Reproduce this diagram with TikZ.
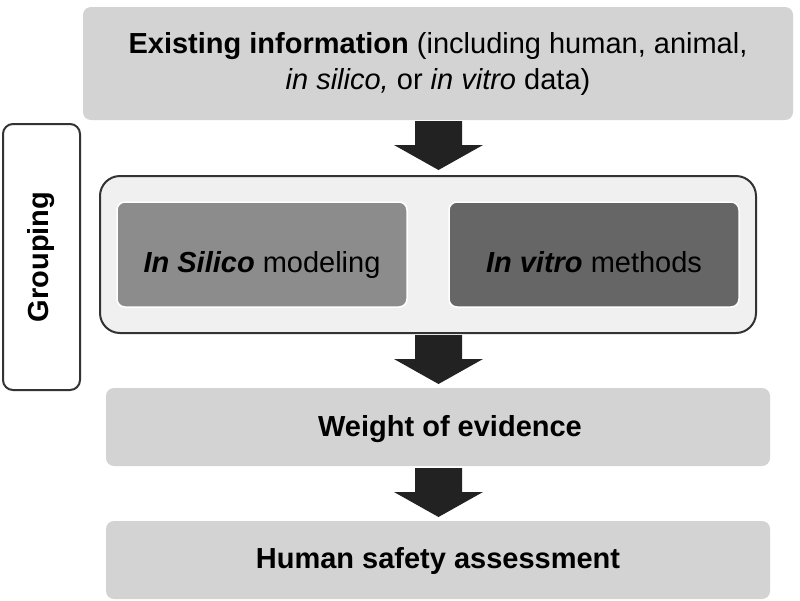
\documentclass[tikz,border=0pt]{standalone}
\usepackage{fontspec}
\setmainfont{Liberation Sans}
\begin{document}
\begin{tikzpicture}[x=1pt,y=-1pt,
  box/.style={fill=boxgray,rounded corners=8pt,inner sep=0pt},
  lbl/.style={font=\fontsize{29}{36}\selectfont,align=center,text=black},
  one/.style={lbl,text height=21pt,text depth=6pt}]
\definecolor{boxgray}{HTML}{D3D3D3}
\definecolor{arrowc}{HTML}{222222}
\definecolor{panel}{HTML}{F0F0F0}
\definecolor{silico}{HTML}{8C8C8C}
\definecolor{vitro}{HTML}{666666}
\definecolor{edge}{HTML}{333333}
\useasboundingbox (0,0) rectangle (800,600);
\fill[white] (0,0) rectangle (800,600);
% top
\filldraw[box,draw=none] (83,7) rectangle (793,120);
\node[lbl] (top) at (438,64) {\textbf{Existing information} (including human, animal,\\\textit{in silico,} or \textit{in vitro} data)};
% grouping
\draw[edge,line width=2pt,fill=white,rounded corners=10pt] (3,124) rectangle (80,390);
\node[one,rotate=90,font=\fontsize{29}{36}\selectfont\bfseries] (grp) at (41,257) {Grouping};
% panel
\draw[edge,line width=2pt,fill=panel,rounded corners=20pt] (100,176) rectangle (756,333);
\draw[white,line width=1.5pt,fill=silico,rounded corners=8pt] (117,202) rectangle (407,307);
\draw[white,line width=1.5pt,fill=vitro,rounded corners=8pt] (449,202) rectangle (739,307);
\node[one] (sil) at (262,265) {\textbf{\textit{In Silico}} modeling};
\node[one] (vit) at (594,265) {\textbf{\textit{In vitro}} methods};
% weight, human
\filldraw[box,draw=none] (106,388) rectangle (770,466);
\node[one] (woe) at (450,429) {\textbf{Weight of evidence}};
\filldraw[box,draw=none] (106,521) rectangle (770,599);
\node[one] (hsa) at (438,561) {\textbf{Human safety assessment}};
% arrows
\foreach \a/\b in {121/170,335/384,468/517}{
  \fill[arrowc] (415,\a) -- (462,\a) -- (462,\a+24) -- (483,\a+24) -- (438.5,\b) -- (394,\a+24) -- (415,\a+24) -- cycle;
}
\end{tikzpicture}
\end{document}
